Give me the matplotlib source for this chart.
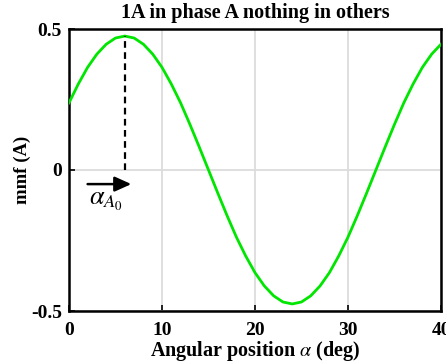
import matplotlib
matplotlib.use("Agg")
import matplotlib.pyplot as plt

alpha_deg = list(range(0, 41))
mmf = [0.238, 0.305, 0.364, 0.411, 0.446, 0.468, 0.475, 0.468, 0.446, 0.411,
       0.364, 0.305, 0.238, 0.162, 0.082, 0.0, -0.082, -0.162, -0.238, -0.305,
       -0.364, -0.411, -0.446, -0.468, -0.475, -0.468, -0.446, -0.411, -0.364, -0.305,
       -0.238, -0.162, -0.082, 0.0, 0.082, 0.162, 0.238, 0.305, 0.364, 0.411, 0.446]
peak_alpha = 6
peak_mmf = 0.475
arrow_start = 2
arrow_y = -0.05
x_ticks = [0, 10, 20, 30, 40]
y_ticks = [-0.5, 0, 0.5]
y_tick_labels = ["-0.5", "0", "0.5"]

plt.rcParams['font.family'] = ['Liberation Serif', 'DejaVu Serif']
plt.rcParams['mathtext.fontset'] = 'stix'

fig = plt.figure(figsize=(4.46, 3.64), dpi=100)
ax = fig.add_axes([69/446, 1 - 311/364, 372/446, 282/364])

ax.set_xlim(0, 40)
ax.set_ylim(-0.5, 0.5)
ax.set_xticks(x_ticks)
ax.set_yticks(y_ticks)
ax.set_yticklabels(y_tick_labels)
ax.grid(True, color='#dcdcdc', linewidth=1.3)
ax.set_axisbelow(True)

ax.plot(alpha_deg, mmf, color='#00e600', linewidth=2.0, zorder=3)
ax.plot([peak_alpha, peak_alpha], [0, peak_mmf], color='black', linestyle=(0, (3, 2)),
        linewidth=1.6, zorder=4)
ax.annotate('', xy=(peak_alpha + 0.7, arrow_y), xytext=(arrow_start, arrow_y),
            arrowprops=dict(arrowstyle='-|>,head_length=1.0,head_width=0.45',
                            color='black', lw=1.8, shrinkA=0, shrinkB=0))
ax.text(2.1, -0.112, r'$\alpha_{A_0}$', fontsize=19, ha='left', va='center')

for s in ax.spines.values():
    s.set_linewidth(1.8)
ax.tick_params(direction='in', length=4, width=1.2, labelsize=14)
ax.tick_params(axis='x', pad=8)
ax.tick_params(axis='y', pad=5)
for lbl in ax.get_xticklabels() + ax.get_yticklabels():
    lbl.set_fontweight('bold')

ax.set_title('1A in phase A nothing in others', fontsize=14.5, fontweight='bold', pad=8)
ax.set_xlabel(r'Angular position $\alpha$ (deg)', fontsize=14.5, fontweight='bold', labelpad=0)
ax.set_ylabel('mmf (A)', fontsize=13.5, fontweight='bold', labelpad=0)

fig.savefig('out.png', dpi=100)
